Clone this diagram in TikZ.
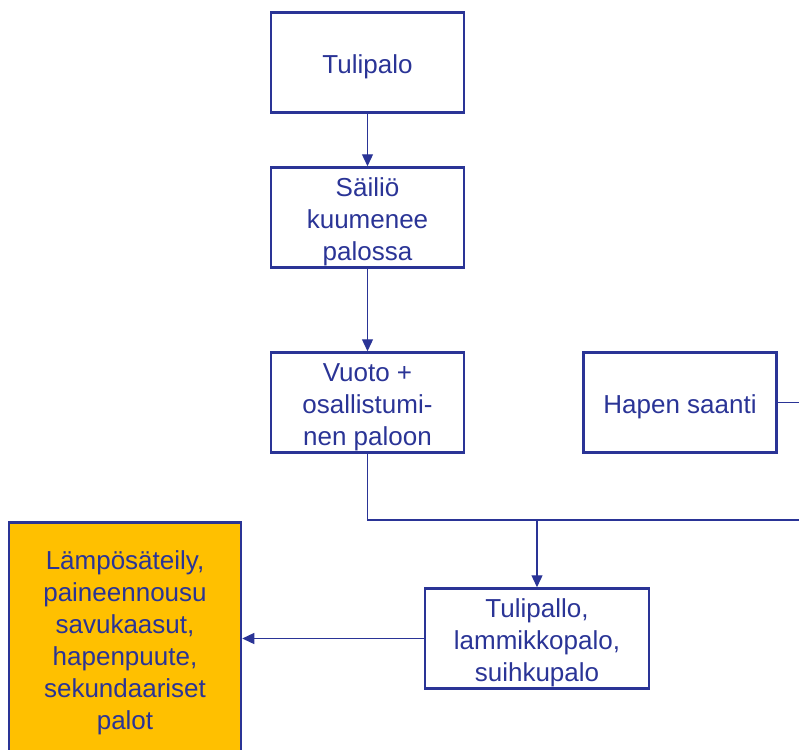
\documentclass[tikz,border=0pt]{standalone}
\usepackage{fontspec}
\setmainfont{Liberation Sans}
\usepackage{tikz}
\usetikzlibrary{arrows.meta}
\definecolor{tummansininen}{RGB}{42,52,150}
\definecolor{oranssi}{RGB}{255,192,0}
\newcommand{\rivinyla}{\rule{0pt}{28pt}}
\tikzstyle{block} = [rectangle, minimum width=193pt, minimum height=100pt, align=center, draw=tummansininen, line width=2.5pt, text=tummansininen, font=\fontsize{26}{32}\selectfont, inner sep=0pt]
\tikzstyle{block2} = [block, minimum width=224pt]
\tikzstyle{seuraus} = [block, minimum width=232pt, minimum height=232pt, fill=oranssi]
\tikzstyle{line} = [draw=tummansininen, line width=1.3pt]
\tikzstyle{arrow} = [line, -{Triangle[length=12pt,width=11pt]}]

\begin{document}
\begin{tikzpicture}[x=1pt, y=1pt, node distance=155pt]
        \clip (0,0) rectangle (799,-749);
        \node (tuli) [block] at (367.5,-62.5) {\rivinyla Tulipalo};
        \node (sailio) [block, below of=tuli] {\rivinyla Säiliö\\kuumenee\\palossa};
        \node (vuoto) [block, below of=sailio, yshift=-30pt] {\rivinyla Vuoto +\\osallistumi-\\nen paloon};
        \node (hapen) [block, right of=vuoto, xshift=157.5pt] {\rivinyla Hapen saanti};
        \node (pallo) [block2] at (537,-638.5) {\rivinyla Tulipallo,\\lammikkopalo,\\suihkupalo};
        \node (seur) [seuraus] at (125,-638.5) {\rivinyla Lämpösäteily,\\paineennousu\\savukaasut,\\hapenpuute,\\sekundaariset\\palot};
        \coordinate (oikea) at (799,-520);
        \coordinate (hapenloppu) at (799,-403);

        \draw [arrow] (tuli) -- (sailio);
        \draw [arrow] (sailio) -- (vuoto);
        \draw [line] (vuoto.south) |- (oikea);
        \draw [line] (hapen.east) -- (hapen.east -| hapenloppu);
        \draw [arrow] (pallo.north |- oikea) -- (pallo);
        \draw [arrow] (pallo) -- (seur);
\end{tikzpicture}
\end{document}
